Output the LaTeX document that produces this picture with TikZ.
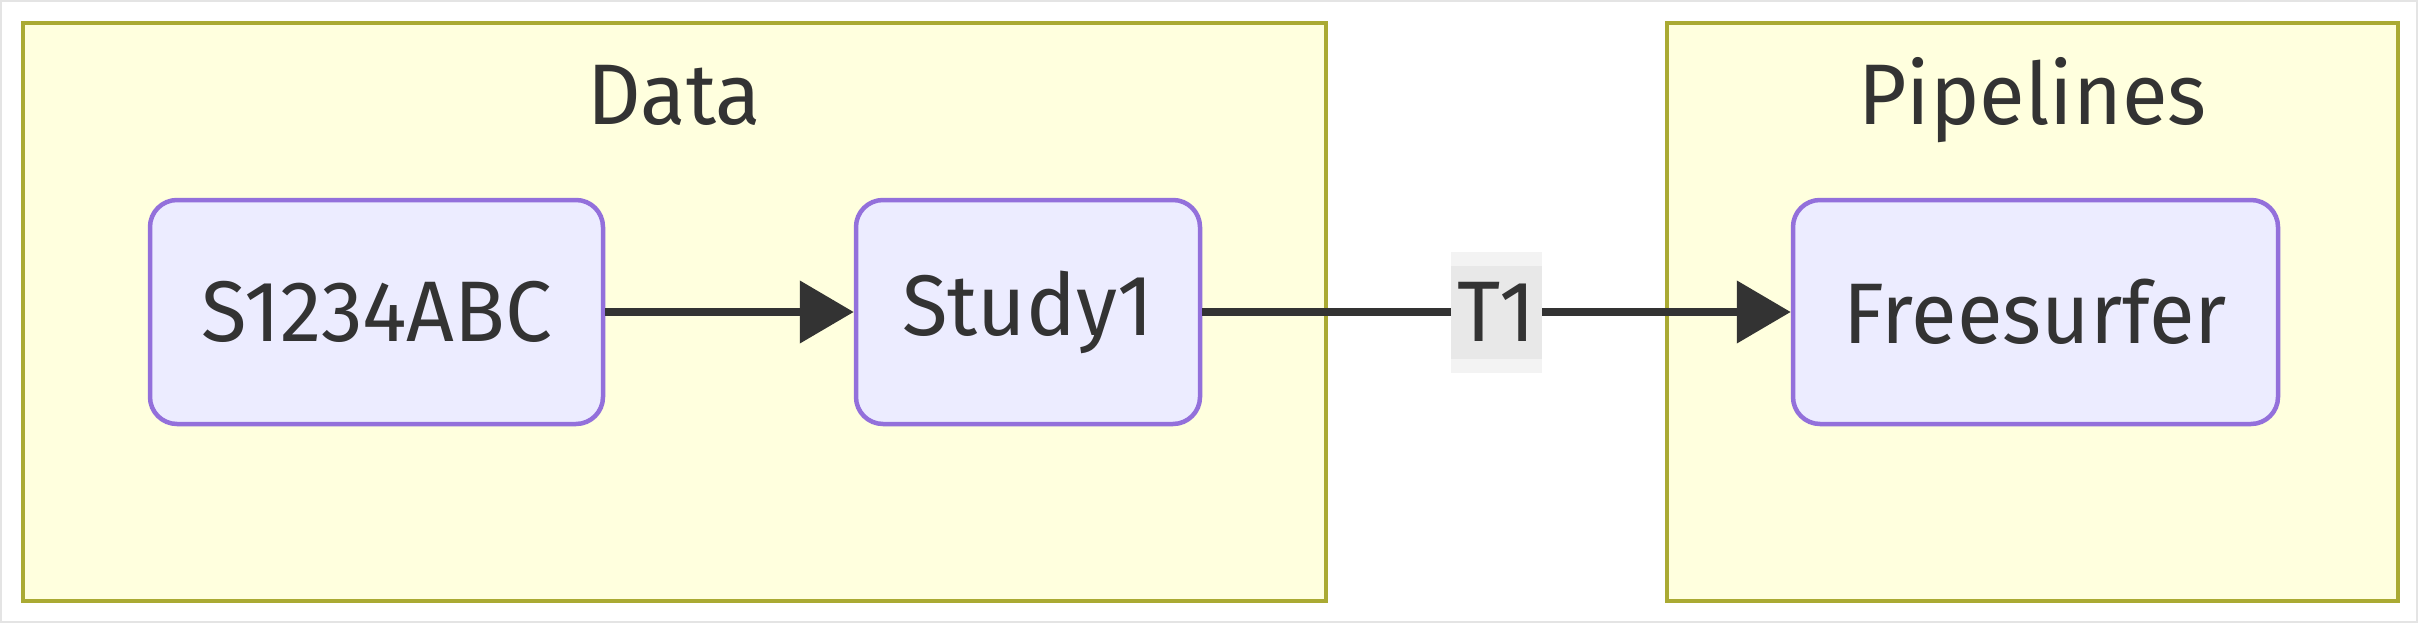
\documentclass[tikz,border=0pt]{standalone}
\usepackage{fontspec}
\setmainfont[FakeStretch=0.97]{Fira Sans}
\usetikzlibrary{arrows.meta,calc}
\definecolor{clfill}{HTML}{FFFFDE}
\definecolor{cldraw}{HTML}{AAAA33}
\definecolor{ndfill}{HTML}{ECECFF}
\definecolor{nddraw}{HTML}{9370DB}
\definecolor{txt}{HTML}{333333}
\definecolor{lblin}{HTML}{E8E8E8}
\definecolor{lblout}{HTML}{F3F3F3}
\definecolor{frame}{HTML}{E4E4E4}
\tikzset{
  cluster/.style={fill=clfill, draw=cldraw, line width=4pt, inner sep=0pt, minimum height=578pt},
  cltitle/.style={text=txt, anchor=base, inner sep=0pt, font=\fontsize{86}{100}\selectfont},
  box/.style={fill=ndfill, draw=nddraw, line width=4.5pt, rounded corners=27pt, inner sep=0pt,
    minimum height=224pt, text=txt, font=\fontsize{86}{100}\selectfont},
  edge/.style={draw=txt, line width=8pt, -{Triangle[length=54pt,width=61pt]}},
  lbl/.style={fill=lblin, inner sep=0pt, minimum width=91pt, minimum height=93pt, text=txt,
    font=\fontsize{86}{100}\selectfont},
}
\begin{document}
\begin{tikzpicture}[x=1pt,y=-1pt]
\useasboundingbox (0,0) rectangle (2418,623);
\fill[white] (0,0) rectangle (2418,623);
\draw[frame, line width=2pt] (1,1) rectangle (2417,622);
% clusters
\node[cluster, minimum width=1303pt] (data) at (674.5,312) {};
\node[cluster, minimum width=731pt] (pipe) at (2032.5,312) {};
\node[cltitle] (datat) at (674.5,125) {Data};
\node[cltitle] (pipet) at (2032.5,125) {Pipelines};
% nodes
\node[box, minimum width=453pt] (s) at (376.5,312) {S1234ABC};
\node[box, minimum width=344pt] (study) at (1028,312) {Study1};
\node[box, minimum width=485pt] (free) at (2035.5,312) {Freesurfer};
% edges
\draw[edge] (s.east) -- (study.west);
\draw[edge] (study.east) -- (free.west);
\coordinate (m) at ($(study.east)!0.5!(free.west)$);
\fill[lblout] ($(m)+(-45.5,-60.5)$) rectangle ($(m)+(45.5,60.5)$);
\node[lbl] (t1) at (m) {T1};
\end{tikzpicture}
\end{document}
